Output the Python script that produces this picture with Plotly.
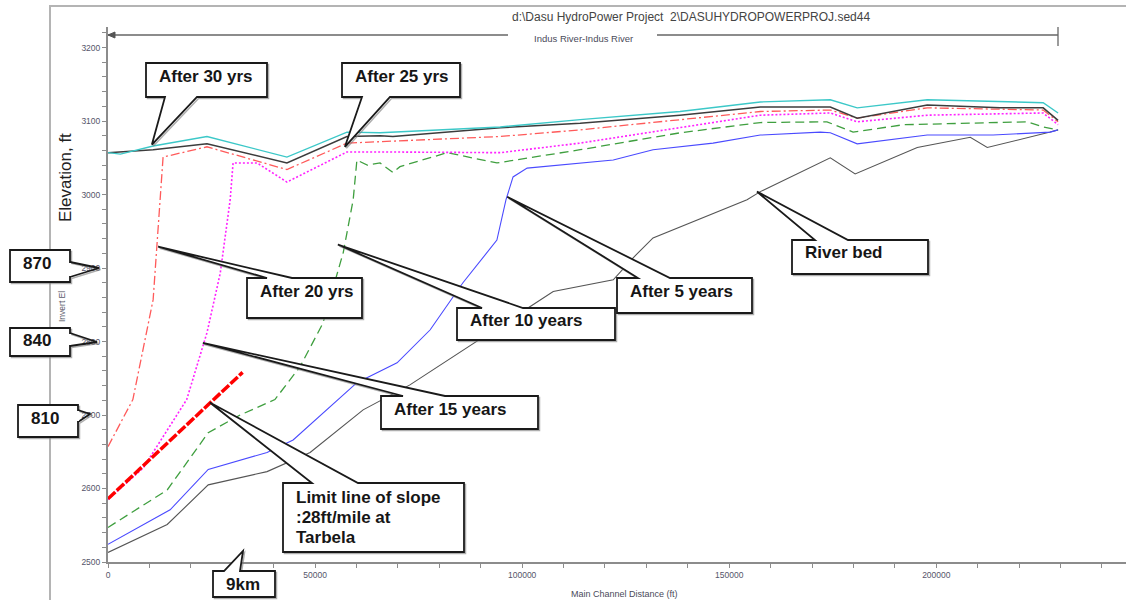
import plotly.graph_objects as go

# ---------------------------------------------------------------------------
# Sediment deposition profiles along the Indus River (HEC-RAS sediment run)
# Main channel distance (ft) and invert elevation (ft) for each profile
# ---------------------------------------------------------------------------
bed_x = [0, 14300, 24200, 38400, 48800, 61600, 72900, 89100, 101900, 107500,
         122000, 126800, 131600, 154300, 157500, 174400, 180400, 195400,
         208200, 212300, 227500, 229400]
bed_y = [2513, 2551, 2605, 2623, 2649, 2707, 2741, 2800, 2847, 2868,
         2884, 2914, 2941, 2993, 3004, 3050, 3028, 3064,
         3078, 3064, 3085, 3088]

yr5_x = [0, 15000, 24200, 30200, 38400, 44700, 60100, 69800, 77800, 85700,
         93900, 96100, 97800, 101200, 114000, 122000, 131600, 146100, 157500,
         172000, 174400, 180900, 197800, 213700, 227500, 229400]
yr5_y = [2524, 2571, 2626, 2636, 2649, 2666, 2744, 2771, 2816, 2880,
         2938, 2993, 3024, 3036, 3043, 3047, 3061, 3070, 3081,
         3085, 3084, 3069, 3081, 3081, 3085, 3088]

yr10_x = [0, 14300, 24200, 31900, 40300, 46400, 51900, 56800, 59200, 60100,
          62600, 65700, 68800, 70500, 81900, 93900, 114000, 138100, 157500,
          173600, 179900, 192000, 221900, 225800, 229400]
yr10_y = [2547, 2598, 2676, 2700, 2721, 2766, 2825, 2921, 2993, 3047,
          3040, 3043, 3030, 3038, 3057, 3043, 3061, 3084, 3098,
          3099, 3085, 3095, 3099, 3092, 3088]

yr15_x = [0, 8500, 19000, 23900, 27100, 29500, 30200, 36000, 43200, 57700,
          65700, 94700, 114000, 138100, 157500, 174400, 180900, 197800,
          225800, 229400]
yr15_y = [2585, 2628, 2721, 2812, 2893, 2993, 3043, 3043, 3017, 3058,
          3058, 3057, 3070, 3091, 3108, 3111, 3099, 3108,
          3111, 3095]

yr20_x = [0, 6000, 10900, 12100, 12600, 13300, 23900, 43200, 57700, 65700,
          94700, 114000, 138100, 157500, 174400, 180900, 197800, 225800, 229400]
yr20_y = [2657, 2721, 2857, 2948, 2993, 3051, 3065, 3034, 3070, 3072,
          3079, 3088, 3102, 3113, 3115, 3104, 3118, 3115, 3099]

yr25_x = [0, 10900, 23900, 43200, 57700, 65700, 68800, 94700, 114000, 138100,
          157500, 174400, 180900, 197800, 215400, 225800, 229400]
yr25_y = [3057, 3061, 3069, 3043, 3079, 3080, 3079, 3091, 3097, 3108,
          3119, 3119, 3104, 3122, 3118, 3118, 3101]

yr30_x = [0, 3000, 10900, 23900, 43200, 57700, 65700, 94700, 114000, 138100,
          157500, 174400, 180900, 197800, 225800, 229400]
yr30_y = [3057, 3055, 3066, 3079, 3051, 3085, 3084, 3092, 3102, 3113,
          3126, 3129, 3118, 3129, 3125, 3111]

# Limit line of slope (28 ft/mile) starting at Tarbela
limit_x = [0, 32500]
limit_y = [2586, 2758]

# Axis ticks
x_ticks = [0, 50000, 100000, 150000, 200000]
y_ticks = [2500, 2600, 2700, 2800, 2900, 3000, 3100, 3200]

# ---------------------------------------------------------------------------
FIG_W, FIG_H = 1126, 600
M_L, M_R, M_T, M_B = 108, 0, 27, 38
X_RANGE = [0, 245800]
Y_RANGE = [2500, 3228]
PW = FIG_W - M_L - M_R
PH = FIG_H - M_T - M_B

FONT = "Arial, Liberation Sans, sans-serif"


def paper(px, py):
    """Pixel position on the page -> paper coordinates."""
    return (px - M_L) / PW, (FIG_H - M_B - py) / PH


def to_px(x, y):
    """Data coordinates -> pixel position on the page."""
    px = M_L + (x - X_RANGE[0]) / (X_RANGE[1] - X_RANGE[0]) * PW
    py = FIG_H - M_B - (y - Y_RANGE[0]) / (Y_RANGE[1] - Y_RANGE[0]) * PH
    return px, py


def path_of(points, close=True):
    s = "M " + " L ".join(f"{p[0]:.6f},{p[1]:.6f}" for p in (paper(*q) for q in points))
    return s + (" Z" if close else "")


fig = go.Figure()

profiles = [
    (bed_x, bed_y, "River bed", dict(color="#555555", width=1.1)),
    (yr5_x, yr5_y, "After 5 years", dict(color="#4a4aff", width=1.1)),
    (yr10_x, yr10_y, "After 10 years", dict(color="#3f9f3f", width=1.3, dash="9px,5px")),
    (yr15_x, yr15_y, "After 15 years", dict(color="#ff22ff", width=1.6, dash="2px,2px")),
    (yr20_x, yr20_y, "After 20 yrs", dict(color="#ff5a5a", width=1.3, dash="9px,3px,2px,3px")),
    (yr25_x, yr25_y, "After 25 yrs", dict(color="#3c3c3c", width=1.5)),
    (yr30_x, yr30_y, "After 30 yrs", dict(color="#3cc8c8", width=1.4)),
]
for xs, ys, name, line in profiles:
    fig.add_trace(go.Scatter(x=xs, y=ys, mode="lines", name=name, line=line,
                             showlegend=False, hoverinfo="skip"))

fig.add_trace(go.Scatter(x=limit_x, y=limit_y, mode="lines", name="Limit line",
                         line=dict(color="#ff0000", width=3.5, dash="10px,2px"),
                         showlegend=False, hoverinfo="skip"))

shapes = []
annotations = []

# Outer frame of the plot window
shapes.append(dict(type="path", xref="paper", yref="paper", layer="below",
                   path=path_of([(50, FIG_H + 5), (50, 6), (FIG_W + 5, 6)], close=False),
                   line=dict(color="#b4b4b4", width=2)))

# Reach bracket above the plot
for a, b in [(108, 508), (657, 1058)]:
    shapes.append(dict(type="path", xref="paper", yref="paper",
                       path=path_of([(a, 35), (b, 35)], close=False),
                       line=dict(color="#666666", width=1.3)))
shapes.append(dict(type="path", xref="paper", yref="paper",
                   path=path_of([(1058, 27), (1058, 46)], close=False),
                   line=dict(color="#666666", width=1.3)))
shapes.append(dict(type="path", xref="paper", yref="paper",
                   path=path_of([(108, 35), (115, 32), (115, 38)]),
                   fillcolor="#555555", line=dict(color="#555555", width=1)))


def add_text(text, px, py, size, color="#333333", xanchor="center", angle=0, bold=False):
    x, y = paper(px, py)
    annotations.append(dict(text=f"<b>{text}</b>" if bold else text, x=x, y=y,
                            xref="paper", yref="paper", showarrow=False,
                            xanchor=xanchor, yanchor="middle", textangle=angle,
                            font=dict(family=FONT, size=size, color=color)))


add_text("d:\\Dasu HydroPower Project\u00a0\u00a02\\DASUHYDROPOWERPROJ.sed44", 691, 17, 12, "#444444")
add_text("Indus River-Indus River", 583, 38, 9.5, "#4a4a5a")
add_text("Main Channel Distance (ft)", 624, 594, 9, "#4a4a5a")
add_text("Elevation, ft", 65, 178, 17, "#222222", angle=-90)
add_text("Invert El", 62, 307, 8.5, "#5a5a6a", angle=-90)


def callout(lines, tip, box, side, base, tip_in_data=True, open_wedge=False):
    x0, y0, x1, y1 = box
    tx, ty = to_px(*tip) if tip_in_data else tip
    b1, b2 = base
    if side == "top":
        pts = [(x0, y0), (b1, y0), (tx, ty), (b2, y0), (x1, y0), (x1, y1), (x0, y1)]
    elif side == "bottom":
        pts = [(x0, y0), (x1, y0), (x1, y1), (b2, y1), (tx, ty), (b1, y1), (x0, y1)]
    else:  # right
        pts = [(x0, y0), (x1, y0), (x1, b1), (tx, ty), (x1, b2), (x1, y1), (x0, y1)]
    shadow = [(p[0] + 1.5, p[1] + 1.5) for p in pts]
    shapes.append(dict(type="path", xref="paper", yref="paper", layer="above",
                       path=path_of(shadow),
                       line=dict(color="rgba(120,120,120,0.6)", width=1.5)))
    if open_wedge:
        # box filled, pointer drawn as bare strokes so the tick label shows through
        shapes.append(dict(type="path", xref="paper", yref="paper", layer="above",
                           path=path_of([(x0, y0), (x1, y0), (x1, y1), (x0, y1)]),
                           line=dict(color="#1a1a1a", width=1.8), fillcolor="white"))
        shapes.append(dict(type="path", xref="paper", yref="paper", layer="above",
                           path=path_of([(x1, b1), (tx, ty), (x1, b2)], close=False),
                           line=dict(color="#1a1a1a", width=1.8)))
        shapes.append(dict(type="path", xref="paper", yref="paper", layer="above",
                           path=path_of([(x1, b1 + 1), (x1, b2 - 1)], close=False),
                           line=dict(color="white", width=2.2)))
    else:
        shapes.append(dict(type="path", xref="paper", yref="paper", layer="above",
                           path=path_of(pts),
                           line=dict(color="#1a1a1a", width=1.8), fillcolor="white"))
    first = y0 + 13 if len(lines) == 1 else (y0 + y1) / 2 - 10 * (len(lines) - 1)
    for i, t in enumerate(lines):
        add_text(t, x0 + 11, first + 20 * i, 17, "#161616", xanchor="left", bold=True)


callout(["After 30 yrs"], (10600, 3068), (146, 63, 267, 97), "bottom", (165, 197))
callout(["After 25 yrs"], (57200, 3065), (342, 63, 460, 97), "bottom", (362, 390))
callout(["After 20 yrs"], (12100, 2929), (247, 278, 362, 318), "top", (267, 292))
callout(["After 15 years"], (22900, 2798), (381, 396, 538, 429), "top", (403, 445))
callout(["After 10 years"], (55500, 2932), (457, 308, 615, 340), "top", (482, 523))
callout(["After 5 years"], (96400, 2997), (617, 278, 752, 313), "top", (638, 670))
callout(["River bed"], (156700, 3004), (792, 240, 928, 274), "top", (815, 848))
callout(["Limit line of slope", ":28ft/mile at", "Tarbela"], (24600, 2717),
        (283, 483, 464, 552), "top", (312, 358))
callout(["9km"], (32600, 2515), (213, 571, 275, 597), "top", (224, 240))
callout(["870"], (99, 268), (10, 250, 70, 282), "right", (262, 277),
        tip_in_data=False, open_wedge=True)
callout(["840"], (97, 342), (10, 328, 70, 356), "right", (333, 346),
        tip_in_data=False, open_wedge=True)
callout(["810"], (90, 414), (18, 405, 78, 437), "right", (410, 422),
        tip_in_data=False, open_wedge=True)

axis_common = dict(showline=True, linecolor="#8c8c8c", linewidth=2, mirror=False,
                   ticks="outside", ticklen=4, tickwidth=1, tickcolor="#8c8c8c",
                   showgrid=False, zeroline=False,
                   tickfont=dict(family=FONT, size=8.5, color="#55556a"))

fig.update_layout(
    width=FIG_W, height=FIG_H,
    margin=dict(l=M_L, r=M_R, t=M_T, b=M_B, pad=0),
    paper_bgcolor="white", plot_bgcolor="white",
    showlegend=False,
    xaxis=dict(range=X_RANGE, tickvals=x_ticks, tickformat="d",
               minor=dict(dtick=10000, tick0=0, ticks="outside", ticklen=4, tickcolor="#8c8c8c"),
               **axis_common),
    yaxis=dict(range=Y_RANGE, tickvals=y_ticks, tickformat="d",
               minor=dict(dtick=20, tick0=2500, ticks="outside", ticklen=4, tickcolor="#8c8c8c"),
               **axis_common),
    shapes=shapes,
    annotations=annotations,
)

fig.write_html("out.html", config={"displayModeBar": False})
